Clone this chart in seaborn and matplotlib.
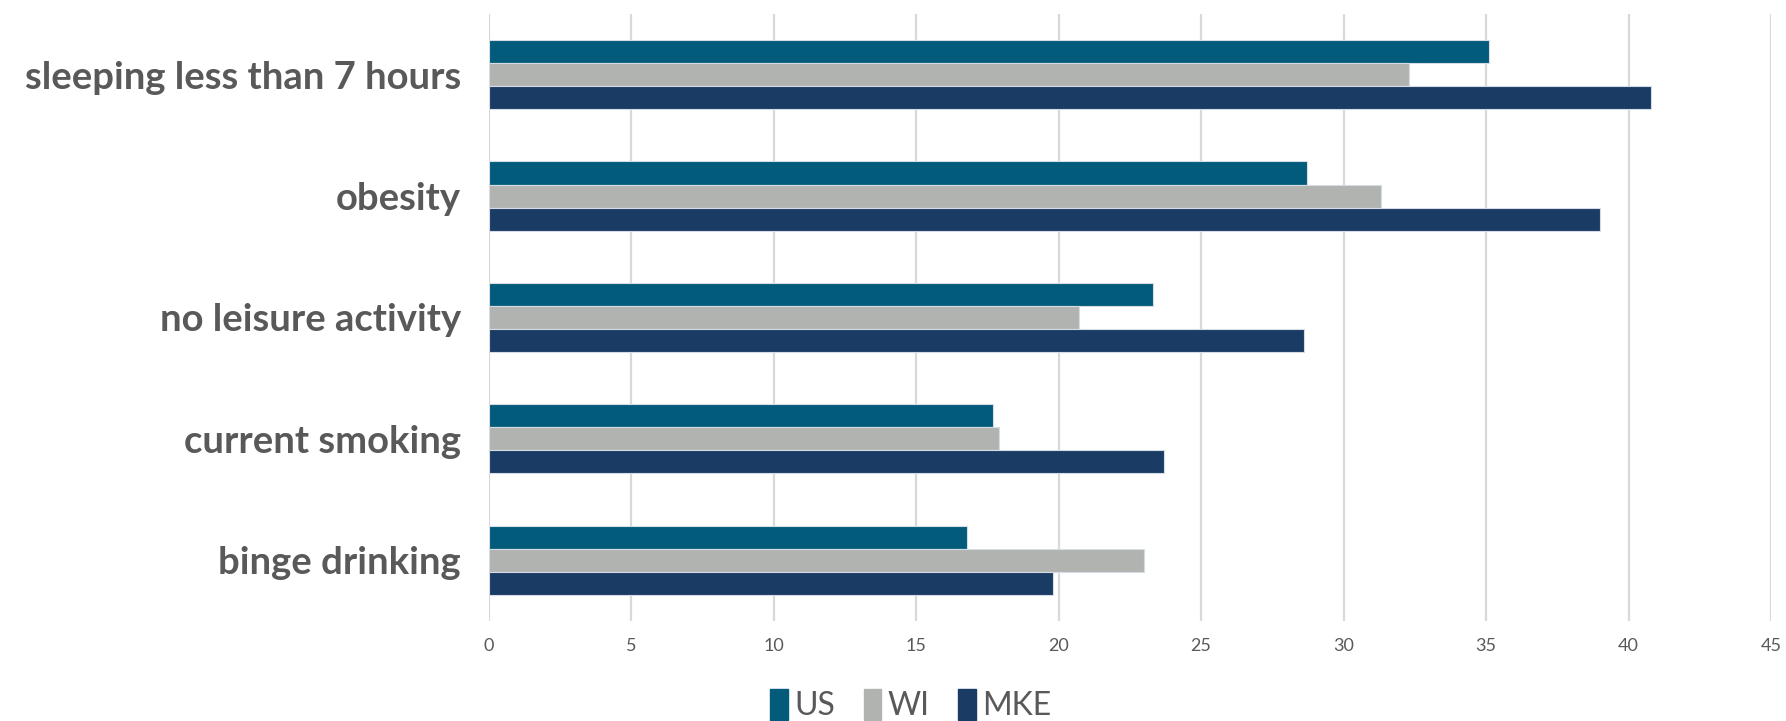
import numpy as np
import pandas as pd
import matplotlib
matplotlib.use("Agg")
import matplotlib.pyplot as plt
import seaborn as sns

# Values (percent)
categories = ["sleeping less than 7 hours", "obesity", "no leisure activity",
              "current smoking", "binge drinking"]
us_vals = [35.1, 28.7, 23.3, 17.7, 16.8]
wi_vals = [32.3, 31.3, 20.7, 17.9, 23.0]
mke_vals = [40.8, 39.0, 28.6, 23.7, 19.8]
series = ["US", "WI", "MKE"]
colors = ["#035B7C", "#B1B3B0", "#1A3C64"]
xticks = list(range(0, 50, 5))

df = pd.DataFrame({
    "category": categories * 3,
    "value": us_vals + wi_vals + mke_vals,
    "area": [s for s in series for _ in categories],
})

sns.set_style("white")
plt.rcParams["font.family"] = ["Lato", "DejaVu Sans"]

fig = plt.figure(figsize=(17.86, 7.21), dpi=100)
ax = fig.add_axes([0.2736, 0.1387, 0.718, 0.8419])

sns.barplot(data=df, x="value", y="category", hue="area", order=categories,
            hue_order=series, palette=colors, saturation=1, orient="h",
            width=0.57, edgecolor="#D6DCE4", linewidth=0.8, ax=ax,
            legend=False, zorder=3)

ax.set_xlim(0, 45)
ax.set_ylim(4.5, -0.5)
ax.set_xticks(xticks)
ax.set_xticklabels([str(t) for t in xticks], fontsize=13, color="#595959")
ax.tick_params(axis="x", length=0, pad=12)
ax.tick_params(axis="y", length=0, pad=20)
for lab in ax.get_yticklabels():
    lab.set_fontsize(27.5)
    lab.set_fontweight("bold")
    lab.set_color("#595959")
ax.set_xlabel("")
ax.set_ylabel("")
ax.grid(axis="x", color="#D9D9D9", linewidth=1.6, zorder=0)
ax.grid(axis="y", visible=False)
for sp in ax.spines.values():
    sp.set_visible(False)

handles = [plt.Rectangle((0, 0), 1, 1, color=c) for c in colors]
fig.legend(handles, series, loc="center", bbox_to_anchor=(0.51, 0.022),
           ncol=3, frameon=False, fontsize=23, handlelength=0.55,
           handleheight=1.1, handletextpad=0.2, columnspacing=0.9,
           labelcolor="#595959")

fig.savefig("out.png", dpi=100)
